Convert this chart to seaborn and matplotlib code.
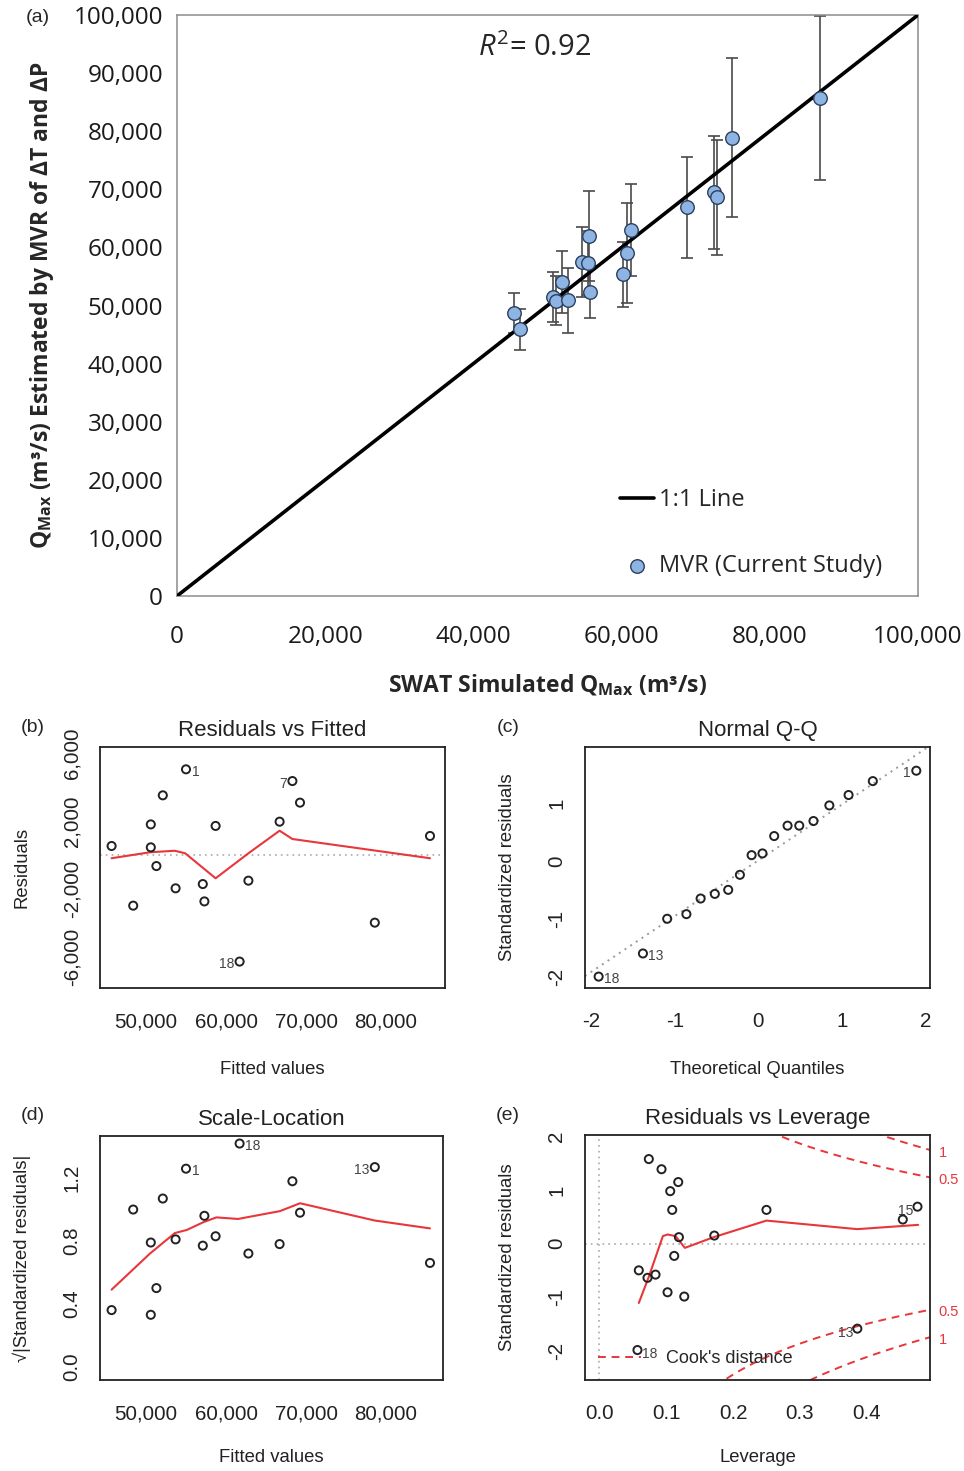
import numpy as np
import pandas as pd
import matplotlib
matplotlib.use("Agg")
import matplotlib.pyplot as plt
import seaborn as sns
from matplotlib.lines import Line2D
from matplotlib.ticker import FuncFormatter

# ---------------- (a) MVR estimate vs SWAT simulated peak discharge ----------------
swat_qmax = [45500, 46300, 50800, 51100, 52000, 52700, 54700, 55600, 55500,
             55700, 60200, 60700, 61300, 68800, 72500, 72900, 74900, 86800]
mvr_qmax = [48700, 45900, 51500, 50800, 54000, 50900, 57500, 62000, 57300,
            52300, 55400, 59100, 63000, 66900, 69500, 68600, 78900, 85700]
mvr_err = [3500, 3500, 4300, 4200, 5300, 5600, 6000, 7700, 5500,
           4500, 5600, 8600, 7900, 8700, 9700, 9900, 13700, 14100]
one_to_one = [0, 100000]
r_squared = 0.92

# ---------------- (b) residuals vs fitted ----------------
fitted = [45700, 48400, 50600, 50600, 51300, 52100, 53700, 55000, 57100,
          57300, 58700, 61700, 62800, 66700, 68300, 69250, 78600, 85500]
residuals = [530, -2980, 1800, 450, -650, 3510, -1960, 5040, -1710,
             -2730, 1710, -6270, -1510, 1960, 4350, 3080, -3980, 1120]
rvf_smooth_x = [45700, 50500, 53600, 54900, 58700, 62800, 66700, 68300, 85500]
rvf_smooth_y = [-190, 160, 250, 100, -1370, 100, 1430, 940, -190]
rvf_label_idx = [7, 14, 11]
rvf_label_txt = ["1", "7", "18"]

# ---------------- (c) normal Q-Q ----------------
theo_quant = [-1.91, -1.38, -1.09, -0.86, -0.69, -0.52, -0.36, -0.22, -0.08,
              0.05, 0.19, 0.35, 0.49, 0.66, 0.85, 1.08, 1.37, 1.89]
std_sorted = [-2.00, -1.60, -1.00, -0.92, -0.65, -0.57, -0.50, -0.24, 0.10,
              0.13, 0.43, 0.61, 0.61, 0.69, 0.96, 1.14, 1.38, 1.56]
qq_intercept = 0.01
qq_slope = 0.965
qq_label_idx = [0, 1, 17]
qq_label_txt = ["18", "13", "1"]

# ---------------- (d) scale-location ----------------
sqrt_abs_std = [0.36, 1.00, 0.79, 0.33, 0.50, 1.07, 0.81, 1.26, 0.77,
                0.96, 0.83, 1.42, 0.72, 0.78, 1.18, 0.98, 1.27, 0.66]
sl_smooth_x = [45700, 50500, 53600, 55100, 57200, 58800, 61500, 66750, 69250, 78600, 85500]
sl_smooth_y = [0.49, 0.72, 0.85, 0.87, 0.92, 0.95, 0.94, 0.99, 1.04, 0.93, 0.88]
sl_label_idx = [7, 11, 16]
sl_label_txt = ["1", "18", "13"]

# ---------------- (e) residuals vs leverage ----------------
leverage = [0.074, 0.093, 0.118, 0.106, 0.109, 0.119, 0.172, 0.250, 0.454,
            0.476, 0.112, 0.059, 0.072, 0.084, 0.102, 0.127, 0.386, 0.057]
std_resid = [1.58, 1.39, 1.15, 0.98, 0.63, 0.12, 0.15, 0.63, 0.45,
             0.69, -0.23, -0.50, -0.64, -0.58, -0.91, -0.99, -1.59, -1.99]
lev_smooth_x = [0.059, 0.074, 0.095, 0.102, 0.114, 0.128, 0.171, 0.250, 0.386, 0.477]
lev_smooth_y = [-1.11, -0.62, 0.14, 0.17, 0.14, -0.08, 0.12, 0.43, 0.27, 0.35]
lev_label_idx = [9, 16, 17]
lev_label_txt = ["15", "13", "18"]
n_params = 3
cook_levels = [0.5, 1]

# ---------------- styling ----------------
sns.set_style("white")
plt.rcParams["font.family"] = ["Liberation Sans", "DejaVu Sans"]
plt.rcParams["mathtext.fontset"] = "custom"
plt.rcParams["mathtext.rm"] = "Open Sans"
plt.rcParams["mathtext.it"] = "Open Sans:italic"
plt.rcParams["mathtext.bf"] = "Open Sans:bold"

W, H = 964, 1471
fig = plt.figure(figsize=(W / 100, H / 100), dpi=100)


def rect(l, t, r, b):
    return [l / W, 1 - b / H, (r - l) / W, (b - t) / H]


XL_FONT = ["Open Sans", "DejaVu Sans"]
R_FONT = ["Liberation Sans", "DejaVu Sans"]
RED = "#e8363a"
INK = "#222222"
comma = FuncFormatter(lambda v, p: f"{v:,.0f}")

# ---------------- panel (a) ----------------
ax = fig.add_axes(rect(177, 15, 918, 596))
ax.errorbar(swat_qmax, mvr_qmax, yerr=mvr_err, fmt="none", ecolor="#4a4a4a",
            elinewidth=1.2, capsize=4, capthick=1.2, zorder=2)
sns.lineplot(x=one_to_one, y=one_to_one, color="black", linewidth=2.6,
             label="1:1 Line", ax=ax, zorder=3)
sns.scatterplot(x=swat_qmax, y=mvr_qmax, s=95, color="#8eb4e3",
                edgecolor="#2b3f5c", linewidth=1.0, label="MVR (Current Study)",
                ax=ax, zorder=4)
ax.set_xlim(0, 100000)
ax.set_ylim(0, 100000)
ax.set_xticks(np.arange(0, 100001, 20000))
ax.set_yticks(np.arange(0, 100001, 10000))
ax.xaxis.set_major_formatter(comma)
ax.yaxis.set_major_formatter(comma)
for sp in ax.spines.values():
    sp.set_color("#8c8c8c")
    sp.set_linewidth(1.1)
ax.tick_params(axis="both", direction="out", length=5, width=1, color="#8c8c8c",
               labelsize=17.5, labelcolor="#1a1a1a")
ax.tick_params(axis="x", pad=16)
ax.tick_params(axis="y", pad=5)
for lab in ax.get_xticklabels() + ax.get_yticklabels():
    lab.set_family(XL_FONT)
ax.set_xlabel(r"SWAT Simulated $\mathbf{Q_{Max}}$ (m³/s)", fontsize=16.5,
              fontweight="bold", family=XL_FONT)
ax.xaxis.set_label_coords(0.5, -(685 - 596) / 581)
ax.xaxis.label.set_va("center")
ax.set_ylabel(r"$\mathbf{Q_{Max}}$ (m³/s) Estimated by MVR of ΔT and ΔP", fontsize=16.5,
              fontweight="bold", family=XL_FONT)
ax.yaxis.set_label_coords(-(177 - 42) / 741, 0.5)
ax.yaxis.label.set_va("center")
ax.text((535 - 177) / 741, (596 - 48) / 581, rf"$\mathit{{R}}^\mathit{{2}}$= {r_squared:.2f}",
        transform=ax.transAxes, ha="center", va="center", fontsize=21, family=XL_FONT)
leg = ax.legend(loc="upper left", bbox_to_anchor=((620 - 177) / 741, (596 - 488) / 581),
                frameon=False, handlelength=1.45, handletextpad=0.2,
                labelspacing=1.8, borderpad=0, borderaxespad=0,
                prop={"family": XL_FONT, "size": 17})
fig.text(38 / W, 1 - 18 / H, "(a)", fontsize=14, ha="center", va="center", family=R_FONT)


# ---------------- helpers for the diagnostic panels ----------------
def r_panel(ax, xlim, ylim, xticks, xticklabels, yticks, yticklabels, title, xlabel, ylabel,
            xlab_off, ylab_off):
    ax.set_xlim(*xlim)
    ax.set_ylim(*ylim)
    ax.set_xticks(xticks)
    ax.set_xticklabels(xticklabels, family=R_FONT)
    ax.set_yticks(yticks)
    ax.set_yticklabels(yticklabels, rotation=90, va="center", family=R_FONT)
    for sp in ax.spines.values():
        sp.set_color(INK)
        sp.set_linewidth(1.3)
    ax.tick_params(axis="both", direction="out", length=6.5, width=1.1, color=INK,
                   labelsize=14.8, labelcolor=INK, pad=7)
    ax.tick_params(axis="x", pad=11)
    ax.set_title(title, fontsize=16, pad=8, color=INK, family=R_FONT)
    ax.set_xlabel(xlabel, fontsize=13.3, color=INK, family=R_FONT)
    ax.set_ylabel(ylabel, fontsize=13.3, color=INK, family=R_FONT)
    ax.xaxis.set_label_coords(0.5, xlab_off)
    ax.xaxis.label.set_va("center")
    ax.yaxis.set_label_coords(ylab_off, 0.5)
    ax.yaxis.label.set_va("center")


def open_points(ax, x, y):
    sns.scatterplot(x=x, y=y, s=34, marker="o", color="black", ax=ax, zorder=4)
    pc = ax.collections[-1]
    pc.set_facecolor("none")
    pc.set_edgecolor(INK)
    pc.set_linewidth(1.4)


def smooth(ax, x, y):
    sns.lineplot(x=x, y=y, sort=False, estimator=None, color=RED, linewidth=1.5,
                 ax=ax, zorder=3)


def point_labels(ax, xs, ys, idx, txt, sides, dx, dy):
    for i, t, side in zip(idx, txt, sides):
        ax.annotate(t, (xs[i], ys[i]), xytext=(dx * side, dy), textcoords="offset points",
                    ha="left" if side > 0 else "right", va="center", fontsize=10,
                    color="#444444", family=R_FONT)


fitted_ticks = [50000, 60000, 70000, 80000]
fitted_labels = ["50,000", "60,000", "70,000", "80,000"]

# ---------------- panel (b) ----------------
ax = fig.add_axes(rect(100, 747, 445, 988))
ax.axhline(0, color="#aaaaaa", linestyle=(0, (1, 2.5)), linewidth=1.2, zorder=1)
smooth(ax, rvf_smooth_x, rvf_smooth_y)
open_points(ax, fitted, residuals)
point_labels(ax, fitted, residuals, rvf_label_idx, rvf_label_txt, [1, -1, -1], 4, -2)
r_panel(ax, (44250, 87375), (-7824, 6353), fitted_ticks, fitted_labels,
        np.arange(-6000, 6001, 2000), ["-6,000", "", "-2,000", "", "2,000", "", "6,000"],
        "Residuals vs Fitted", "Fitted values", "Residuals",
        -(1069 - 988) / 241, -(100 - 22) / 345)
fig.text(33 / W, 1 - 727 / H, "(b)", fontsize=14, ha="center", va="center", family=R_FONT)

# ---------------- panel (c) ----------------
ax = fig.add_axes(rect(585, 747, 930, 988))
ax.axline((0, qq_intercept), slope=qq_slope, color="#999999", linestyle=(0, (1, 2.5)),
          linewidth=1.4, zorder=1)
open_points(ax, theo_quant, std_sorted)
point_labels(ax, theo_quant, std_sorted, qq_label_idx, qq_label_txt, [1, 1, -1], 4, -2)
r_panel(ax, (-2.073, 2.054), (-2.197, 1.97), [-2, -1, 0, 1, 2], ["-2", "-1", "0", "1", "2"],
        [-2, -1, 0, 1], ["-2", "-1", "0", "1"],
        "Normal Q-Q", "Theoretical Quantiles", "Standardized residuals",
        -(1069 - 988) / 241, -(585 - 508) / 345)
fig.text(508 / W, 1 - 727 / H, "(c)", fontsize=14, ha="center", va="center", family=R_FONT)

# ---------------- panel (d) ----------------
ax = fig.add_axes(rect(100, 1136, 443, 1380))
smooth(ax, sl_smooth_x, sl_smooth_y)
open_points(ax, fitted, sqrt_abs_std)
point_labels(ax, fitted, sqrt_abs_std, sl_label_idx, sl_label_txt, [1, 1, -1], 4, -2)
r_panel(ax, (44250, 87125), (-0.085, 1.468), fitted_ticks, fitted_labels,
        np.round(np.arange(0, 1.41, 0.2), 1), ["0.0", "", "0.4", "", "0.8", "", "1.2", ""],
        "Scale-Location", "Fitted values", "√|Standardized residuals|",
        -(1458 - 1380) / 244, -(100 - 22) / 343)
fig.text(33 / W, 1 - 1115 / H, "(d)", fontsize=14, ha="center", va="center", family=R_FONT)

# ---------------- panel (e) ----------------
ax = fig.add_axes(rect(585, 1135, 930, 1380))
lev_xlim = (-0.0215, 0.4947)
ax.axhline(0, color="#aaaaaa", linestyle=(0, (1, 2.5)), linewidth=1.2, zorder=1)
ax.axvline(0, color="#aaaaaa", linestyle=(0, (1, 2.5)), linewidth=1.2, zorder=1)
hh = np.linspace(0.01, lev_xlim[1], 101)
for lvl in cook_levels:
    bound = np.sqrt(lvl * n_params * (1 - hh) / hh)
    for sgn in (1, -1):
        ax.plot(hh, sgn * bound, color=RED, linestyle=(0, (4, 3)), linewidth=1.4, zorder=2)
        yr = sgn * np.sqrt(lvl * n_params * (1 - lev_xlim[1]) / lev_xlim[1])
        ax.text(lev_xlim[1] + 0.013, yr - 0.05, f"{lvl:g}", color=RED, fontsize=10.5,
                ha="left", va="center", family=R_FONT, clip_on=False)
smooth(ax, lev_smooth_x, lev_smooth_y)
open_points(ax, leverage, std_resid)
point_labels(ax, leverage, std_resid, lev_label_idx, lev_label_txt, [-1, -1, 1], 3, -3)
r_panel(ax, lev_xlim, (-2.55, 2.03), [0.0, 0.1, 0.2, 0.3, 0.4],
        ["0.0", "0.1", "0.2", "0.3", "0.4"],
        [-2, -1, 0, 1, 2], ["-2", "-1", "0", "1", "2"],
        "Residuals vs Leverage", "Leverage", "Standardized residuals",
        -(1458 - 1380) / 245, -(585 - 508) / 345)
ax.legend(handles=[Line2D([], [], color=RED, linestyle=(0, (4, 3)), linewidth=1.4)],
          labels=["Cook's distance"], loc="lower left", frameon=False,
          handlelength=2.4, handletextpad=1.4, borderaxespad=0.3,
          prop={"family": R_FONT, "size": 13})
fig.text(508 / W, 1 - 1115 / H, "(e)", fontsize=14, ha="center", va="center", family=R_FONT)

fig.savefig("out.png", dpi=100)
